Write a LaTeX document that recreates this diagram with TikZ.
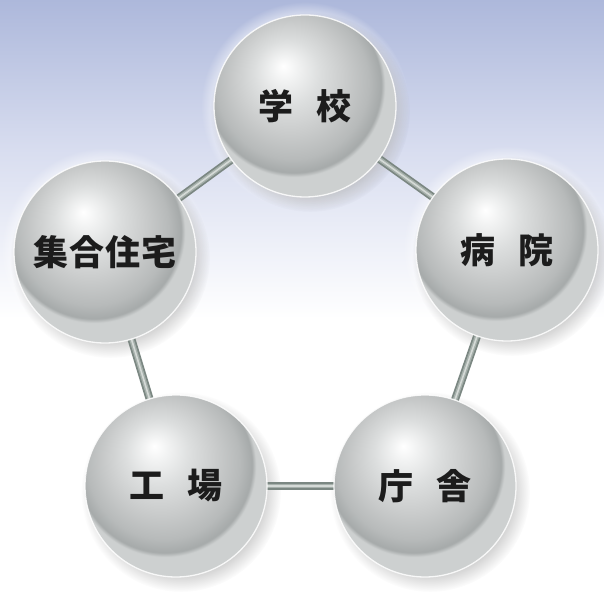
\documentclass[tikz,border=0pt]{standalone}
\usepackage{fontspec}
\newfontfamily\jp{Noto Sans CJK JP}
\usetikzlibrary{fadings}
\definecolor{bgtop}{HTML}{ADB8DB}
\definecolor{bgmid}{HTML}{D9DEF0}
\definecolor{sA}{HTML}{F1F2F2}
\definecolor{sB}{HTML}{DCDEDE}
\definecolor{sC}{HTML}{CACCCC}
\definecolor{sD}{HTML}{B7BABA}
\definecolor{sE}{HTML}{A6AAAA}
\definecolor{sF}{HTML}{CDD0D0}
\definecolor{rodA}{HTML}{7B8782}
\definecolor{rodB}{HTML}{A6B0AB}
\definecolor{rodC}{HTML}{D5DAD7}
\definecolor{labelcol}{HTML}{1C1C1C}
\pgfdeclareverticalshading{bgshade}{100bp}{color(0bp)=(white); color(48bp)=(white); color(62bp)=(bgmid); color(75bp)=(bgtop); color(100bp)=(bgtop)}
\pgfdeclareradialshading{sphereshade}{\pgfpoint{-6bp}{11bp}}{color(0bp)=(white); color(3.5bp)=(sA); color(9bp)=(sB); color(15bp)=(sC); color(21bp)=(sD); color(24bp)=(sE); color(25bp)=(sF); color(50bp)=(sF)}
\pgfdeclarelayer{back}
\pgfsetlayers{back,main}
\begin{document}
\begin{tikzpicture}[x=1pt,y=1pt,
  ball/.style={circle, minimum size=182pt, inner sep=0pt, shade, shading=sphereshade,
    text=labelcol, font=\jp\bfseries\fontsize{35}{35}\selectfont,
    postaction={draw=white, line width=1.3pt, draw opacity=0.85}},
  rod/.style={line width=8pt, draw=rodA,
    postaction={draw=rodB, line width=4.5pt},
    postaction={draw=rodC, line width=1.6pt}},
  glow/.style={fill=white, fill opacity=0.75, path fading=circle with fuzzy edge 20 percent},
  dropshadow/.style={fill=black, fill opacity=0.2, path fading=circle with fuzzy edge 20 percent}]
\useasboundingbox (0,0) rectangle (604,591);

\node[ball] (school) at (305,485) {学\hspace{24pt}校};
\node[ball] (hosp)   at (507,341) {病\hspace{24pt}院};
\node[ball] (gov)    at (425,105) {庁\hspace{24pt}舎};
\node[ball] (fact)   at (176,105) {工\hspace{24pt}場};
\node[ball] (apt)    at (105,339) {集\hspace{1pt}合\hspace{1pt}住\hspace{1pt}宅};

\begin{pgfonlayer}{back}
  \shade[shading=bgshade] (0,0) rectangle (604,591);
  \foreach \n in {school,hosp,gov,fact,apt}{
    \fill[glow] (\n.center) circle (104);
  }
  \foreach \n in {school,hosp,gov,fact,apt}{
    \fill[dropshadow] ([shift={(5,-6)}]\n.center) circle (100);
  }
  \draw[rod] (school.center) -- (hosp.center);
  \draw[rod] (hosp.center) -- (gov.center);
  \draw[rod] (gov.center) -- (fact.center);
  \draw[rod] (fact.center) -- (apt.center);
  \draw[rod] (apt.center) -- (school.center);
\end{pgfonlayer}
\end{tikzpicture}
\end{document}
